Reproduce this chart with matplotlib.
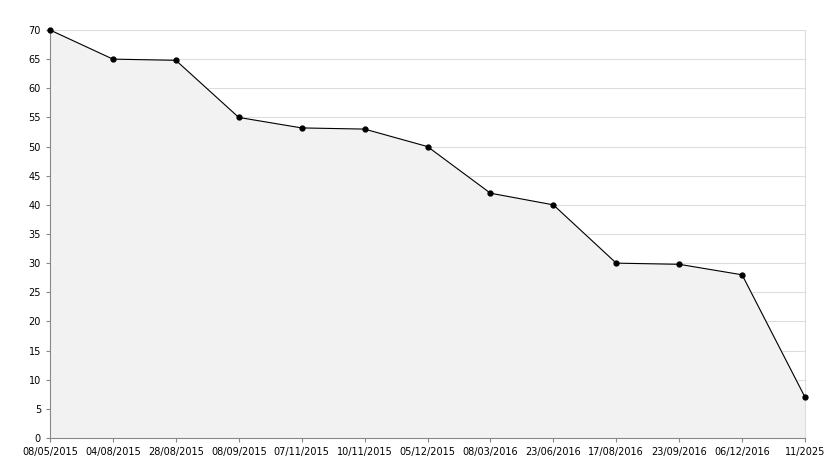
import matplotlib.pyplot as plt

dates = ["08/05/2015", "04/08/2015", "28/08/2015", "08/09/2015", "07/11/2015",
         "10/11/2015", "05/12/2015", "08/03/2016", "23/06/2016", "17/08/2016",
         "23/09/2016", "06/12/2016", "11/2025"]
values = [70, 65, 64.8, 55, 53.2, 53, 50, 42, 40, 30, 29.8, 28, 7]

fig = plt.figure(figsize=(8.34, 4.68), dpi=100)
ax = fig.add_axes([50 / 834, 30 / 468, 755 / 834, 408 / 468])
x = list(range(len(values)))
ax.fill_between(x, values, 0, color="#f2f2f2")
ax.plot(x, values, color="black", lw=0.8, marker="o", ms=3.5, clip_on=False, zorder=5)
ax.set_xlim(0, len(values) - 1)
ax.set_ylim(0, 70)
ax.set_yticks(range(0, 71, 5))
ax.set_xticks(x)
ax.set_xticklabels(dates)
ax.tick_params(labelsize=7, length=3, color="#888888")
ax.grid(axis="y", color="#dddddd", lw=0.8)
ax.set_axisbelow(True)
ax.spines["top"].set_visible(False)
ax.spines["right"].set_color("#dddddd")
for s in ["left", "bottom"]:
    ax.spines[s].set_color("#888888")
fig.savefig("out.png", dpi=100)
